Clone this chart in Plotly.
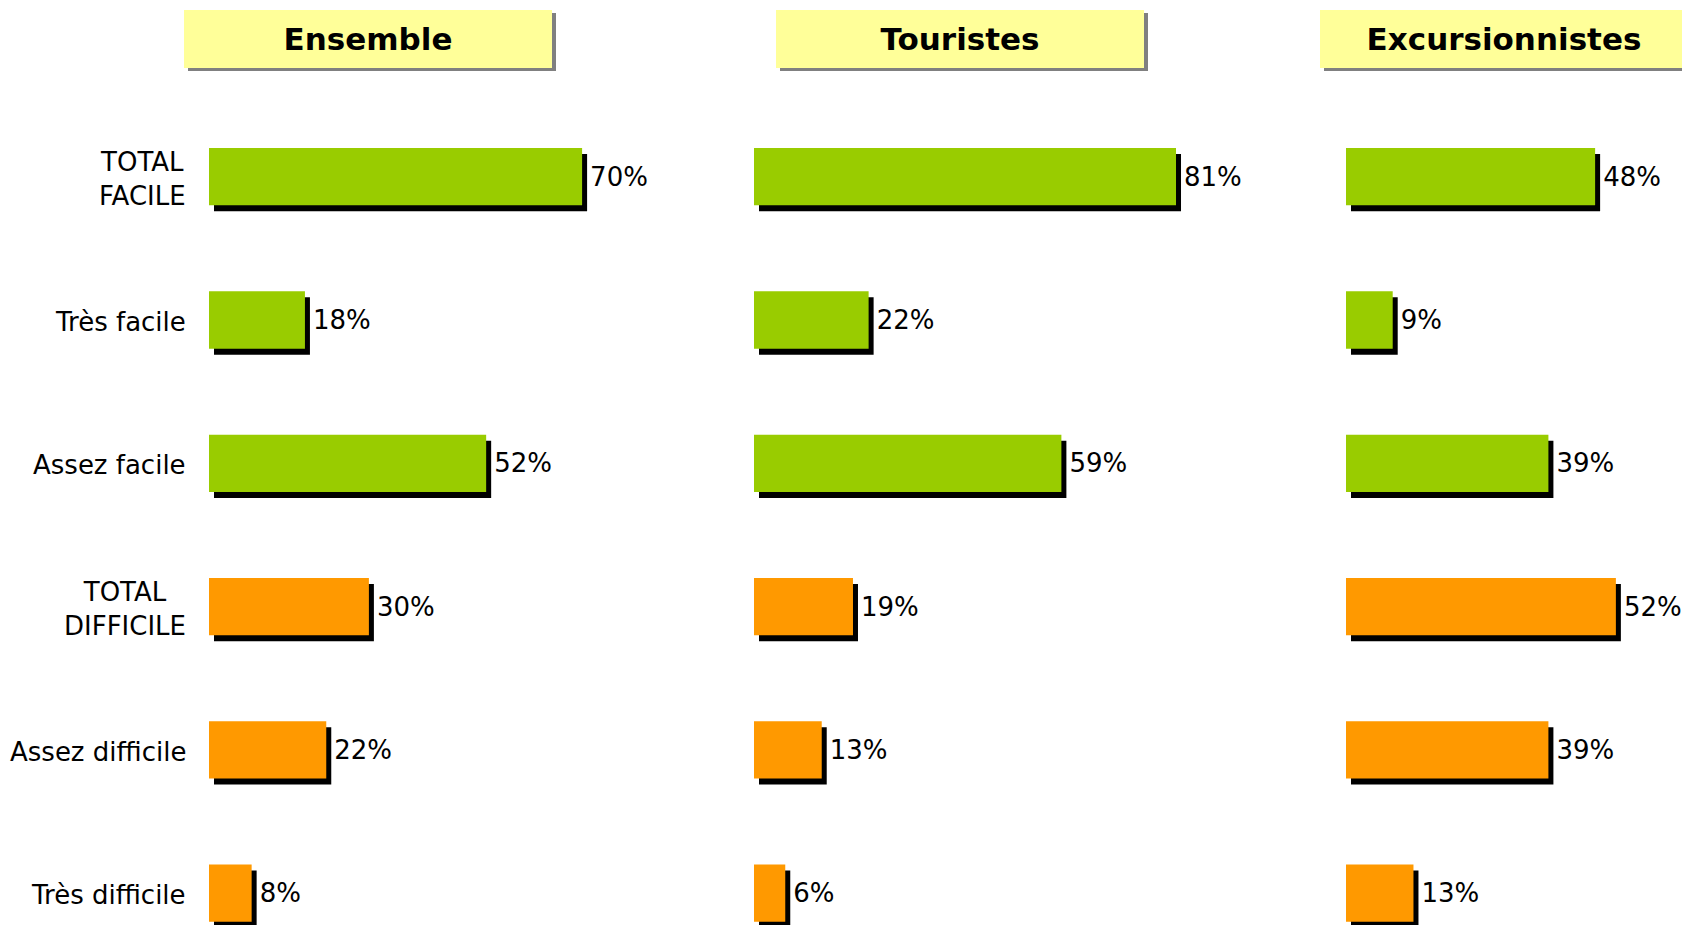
import plotly.graph_objects as go

# ---- data ----
categories = ["TOTAL<br>FACILE", "Très facile", "Assez facile",
              "TOTAL<br>DIFFICILE", "Assez difficile", "Très difficile"]
ensemble = [70, 18, 52, 30, 22, 8]
touristes = [81, 22, 59, 19, 13, 6]
excursionnistes = [48, 9, 39, 52, 39, 13]
panel_titles = ["Ensemble", "Touristes", "Excursionnistes"]
bar_colors = ["#99CC00", "#99CC00", "#99CC00", "#FF9900", "#FF9900", "#FF9900"]

# ---- layout constants (page pixels; the page body has an 8px margin) ----
OFF = 8
W, H = 1690 - OFF, 925 - OFF
FONT = "DejaVu Sans"
ypos = list(range(len(categories)))
row_px = 143.3
first_center = 176.7 - OFF
y_top = -first_center / row_px
y_bottom = (H - first_center) / row_px
bar_w = 0.40

# per panel: (x start px on page, px per %, range max)
panels = [
    (209, 5.33, 80),
    (754, 5.21, 90),
    (1346, 5.19, 60),
]
series = [ensemble, touristes, excursionnistes]
header_centers = [368, 960, 1504]

fig = go.Figure()
shadow_dx, shadow_dy = 5, 6

for i, ((x0, s, rmax), vals) in enumerate(zip(panels, series)):
    xa = "x" if i == 0 else f"x{i+1}"
    dxu = shadow_dx / s
    dyu = shadow_dy / row_px
    # shadow
    fig.add_trace(go.Bar(
        orientation="h", x=vals, y=[p + dyu for p in ypos], base=[dxu] * len(vals),
        width=bar_w, marker=dict(color="#000000", line=dict(width=0)),
        xaxis=xa, yaxis="y", hoverinfo="skip", showlegend=False))
    # main bars
    fig.add_trace(go.Bar(
        orientation="h", x=vals, y=ypos, width=bar_w,
        marker=dict(color=bar_colors, line=dict(width=0)),
        xaxis=xa, yaxis="y", showlegend=False,
        hovertemplate="%{x}%<extra></extra>"))
    # value labels (transparent carrier bar reaching past the shadow)
    fig.add_trace(go.Bar(
        orientation="h", x=[v + dxu for v in vals], y=ypos, width=bar_w,
        marker=dict(color="rgba(0,0,0,0)", line=dict(width=0)),
        text=[f"{v}%" for v in vals], textposition="outside",
        textfont=dict(family=FONT, size=26, color="#000000"),
        cliponaxis=False, xaxis=xa, yaxis="y", hoverinfo="skip", showlegend=False))

layout = dict(
    width=W, height=H,
    margin=dict(l=0, r=0, t=0, b=0),
    paper_bgcolor="white", plot_bgcolor="white",
    barmode="overlay", showlegend=False,
    font=dict(family=FONT, size=26, color="#000000"),
    yaxis=dict(domain=[0, 1], range=[y_bottom, y_top], visible=False,
               showgrid=False, zeroline=False, anchor="x"),
)
for i, (x0, s, rmax) in enumerate(panels):
    key = "xaxis" if i == 0 else f"xaxis{i+1}"
    xs = x0 - OFF
    layout[key] = dict(domain=[xs / W, (xs + s * rmax) / W], range=[0, rmax],
                       visible=False, showgrid=False, zeroline=False, anchor="y")
fig.update_layout(**layout)

annotations = []
# category labels
for p, c in zip(ypos, categories):
    annotations.append(dict(
        text=c, xref="paper", x=(188 - OFF) / W, xanchor="right",
        yref="y", y=p, yanchor="middle", yshift=-2, align="center", showarrow=False,
        font=dict(family=FONT, size=26, color="#000000")))
# headers with grey drop shadow
box_w, box_h, box_cy = 368, 58, 38 - OFF
for title, cx in zip(panel_titles, header_centers):
    cxp = cx - OFF
    annotations.append(dict(
        text=" ", xref="paper", yref="paper",
        x=(cxp + 4) / W, y=1 - (box_cy + 4) / H, xanchor="center", yanchor="middle",
        width=box_w, height=box_h, bgcolor="#808080", borderpad=0, borderwidth=0,
        showarrow=False))
    annotations.append(dict(
        text=f"<b>{title}</b>", xref="paper", yref="paper",
        x=cxp / W, y=1 - box_cy / H, xanchor="center", yanchor="middle", yshift=-1,
        width=box_w, height=box_h, bgcolor="#FFFF99", borderpad=0, borderwidth=0,
        showarrow=False, font=dict(family=FONT, size=31, color="#000000")))
fig.update_layout(annotations=annotations)

fig.write_html("out.html")
